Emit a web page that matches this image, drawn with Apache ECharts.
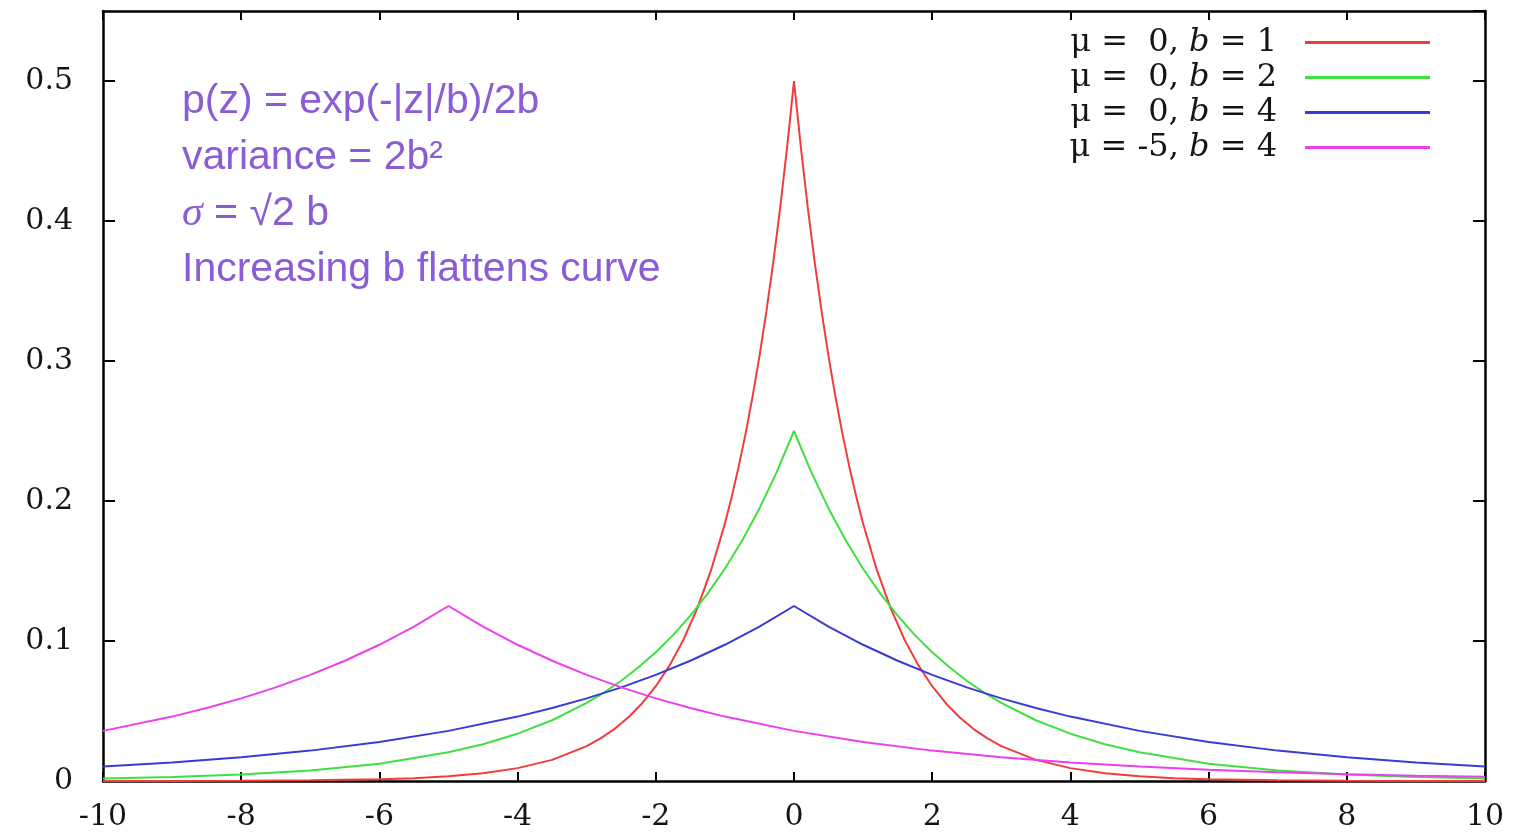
<!DOCTYPE html>
<html>
<head>
<meta charset="utf-8">
<script src="https://cdn.jsdelivr.net/npm/echarts@6/dist/echarts.min.js"></script>
<style>
html,body{margin:0;padding:0;background:#fff;}
#chart{width:1520px;height:836px;}
</style>
</head>
<body>
<div id="chart"></div>
<script>
// ---- data ----
const xTicks = [-10, -8, -6, -4, -2, 0, 2, 4, 6, 8, 10];
const yTickLabels = ['0', '0.1', '0.2', '0.3', '0.4', '0.5'];

const seriesNames = ['μ =  0, b = 1', 'μ =  0, b = 2', 'μ =  0, b = 4', 'μ = -5, b = 4'];
const legendParts = [['μ =  0, ', '= 1'], ['μ =  0, ', '= 2'], ['μ =  0, ', '= 4'], ['μ = -5, ', '= 4']];
const seriesColors = ['#f03c3c', '#3fe03f', '#3a3ad6', '#ee3fee'];

const redX = [-10, -9, -8, -7, -6, -5.5, -5, -4.5, -4, -3.5, -3, -2.8, -2.6, -2.4, -2.2, -2, -1.8, -1.6, -1.4, -1.2, -1, -0.9, -0.8, -0.7, -0.6, -0.5, -0.4, -0.3, -0.2, -0.1, 0,
              0.1, 0.2, 0.3, 0.4, 0.5, 0.6, 0.7, 0.8, 0.9, 1, 1.2, 1.4, 1.6, 1.8, 2, 2.2, 2.4, 2.6, 2.8, 3, 3.5, 4, 4.5, 5, 5.5, 6, 7, 8, 9, 10];
const redY = [0.00002, 0.00006, 0.00017, 0.00046, 0.0012, 0.0020, 0.0034, 0.0056, 0.0092, 0.0151, 0.0249, 0.0304, 0.0371, 0.0454, 0.0554, 0.0677, 0.0826, 0.1009, 0.1233, 0.1506, 0.1839, 0.2033, 0.2247, 0.2483, 0.2744, 0.3033, 0.3352, 0.3704, 0.4094, 0.4524, 0.5,
              0.4524, 0.4094, 0.3704, 0.3352, 0.3033, 0.2744, 0.2483, 0.2247, 0.2033, 0.1839, 0.1506, 0.1233, 0.1009, 0.0826, 0.0677, 0.0554, 0.0454, 0.0371, 0.0304, 0.0249, 0.0151, 0.0092, 0.0056, 0.0034, 0.0020, 0.0012, 0.00046, 0.00017, 0.00006, 0.00002];

const greenX = [-10, -9, -8, -7, -6, -5, -4.5, -4, -3.5, -3, -2.75, -2.5, -2.25, -2, -1.75, -1.5, -1.25, -1, -0.75, -0.5, -0.25, 0,
                0.25, 0.5, 0.75, 1, 1.25, 1.5, 1.75, 2, 2.25, 2.5, 2.75, 3, 3.5, 4, 4.5, 5, 6, 7, 8, 9, 10];
const greenY = [0.0017, 0.0028, 0.0046, 0.0075, 0.0124, 0.0205, 0.0263, 0.0338, 0.0434, 0.0558, 0.0632, 0.0716, 0.0812, 0.0920, 0.1042, 0.1181, 0.1338, 0.1516, 0.1718, 0.1947, 0.2206, 0.25,
                0.2206, 0.1947, 0.1718, 0.1516, 0.1338, 0.1181, 0.1042, 0.0920, 0.0812, 0.0716, 0.0632, 0.0558, 0.0434, 0.0338, 0.0263, 0.0205, 0.0124, 0.0075, 0.0046, 0.0028, 0.0017];

const blueX = [-10, -9, -8, -7, -6, -5, -4, -3.5, -3, -2.5, -2, -1.5, -1, -0.5, 0, 0.5, 1, 1.5, 2, 2.5, 3, 3.5, 4, 5, 6, 7, 8, 9, 10];
const blueY = [0.0103, 0.0132, 0.0169, 0.0217, 0.0279, 0.0358, 0.0460, 0.0521, 0.0590, 0.0669, 0.0758, 0.0859, 0.0973, 0.1103, 0.125,
               0.1103, 0.0973, 0.0859, 0.0758, 0.0669, 0.0590, 0.0521, 0.0460, 0.0358, 0.0279, 0.0217, 0.0169, 0.0132, 0.0103];

const magentaX = [-10, -9, -8.5, -8, -7.5, -7, -6.5, -6, -5.5, -5, -4.5, -4, -3.5, -3, -2.5, -2, -1.5, -1, 0, 1, 2, 3, 4, 5, 6, 7, 8, 9, 10];
const magentaY = [0.0358, 0.0460, 0.0521, 0.0590, 0.0669, 0.0758, 0.0859, 0.0973, 0.1103, 0.125, 0.1103, 0.0973, 0.0859, 0.0758, 0.0669, 0.0590, 0.0521, 0.0460,
                  0.0358, 0.0279, 0.0217, 0.0169, 0.0132, 0.0103, 0.0080, 0.0062, 0.0049, 0.0038, 0.0030];

const annotationLines = ['p(z) = exp(-|z|/b)/2b', 'variance = 2b²', '√2 b', 'Increasing b flattens curve'];

// ---- build ----
function pairs(xs, ys) { return xs.map((x, i) => [x, ys[i]]); }
const allX = [redX, greenX, blueX, magentaX];
const allY = [redY, greenY, blueY, magentaY];

const chart = echarts.init(document.getElementById('chart'), null, {renderer: 'canvas'});
const serif = '"DejaVu Serif", "Liberation Serif", serif';
const tickFont = {fontFamily: serif, fontSize: 30, color: '#151515'};

function yFmt(v) {
  const k = Math.round(v * 10);
  if (Math.abs(v * 10 - k) > 1e-6) return '';
  return yTickLabels[k] !== undefined ? yTickLabels[k] : '';
}

const option = {
  backgroundColor: '#fff',
  animation: false,
  grid: {left: 103, right: 35, top: 11, bottom: 55, containLabel: false},
  legend: {
    orient: 'vertical',
    align: 'right',
    right: 85,
    top: 20,
    itemWidth: 125,
    itemHeight: 3,
    itemGap: 0,
    icon: 'rect',
    selectedMode: false,
    data: seriesNames,
    formatter: function (name) {
      const i = seriesNames.indexOf(name);
      return '{n|' + legendParts[i][0] + '}{i|b}{n| ' + legendParts[i][1] + '}';
    },
    textStyle: {
      fontFamily: serif, fontSize: 32, color: '#151515', lineHeight: 35,
      padding: [0, 23, 0, 0],
      rich: {
        n: {fontFamily: serif, fontSize: 32, color: '#151515', lineHeight: 35},
        i: {fontFamily: serif, fontSize: 32, color: '#151515', fontStyle: 'italic', lineHeight: 35}
      }
    }
  },
  xAxis: [{
    type: 'value', min: -10, max: 10, interval: 2, position: 'bottom',
    axisLine: {show: true, onZero: false, lineStyle: {color: '#000', width: 2.5}},
    axisTick: {show: true, inside: true, length: 9, lineStyle: {color: '#000', width: 2}},
    axisLabel: Object.assign({margin: 21}, tickFont),
    splitLine: {show: false}
  }, {
    type: 'value', min: -10, max: 10, interval: 2, position: 'top',
    axisLine: {show: true, onZero: false, lineStyle: {color: '#000', width: 2.5}},
    axisTick: {show: true, inside: true, length: 9, lineStyle: {color: '#000', width: 2}},
    axisLabel: {show: false},
    splitLine: {show: false}
  }],
  yAxis: [{
    type: 'value', min: 0, max: 0.55, interval: 0.1, position: 'left',
    axisLine: {show: true, onZero: false, lineStyle: {color: '#000', width: 2.5}},
    axisTick: {show: true, inside: true, length: 12, lineStyle: {color: '#000', width: 2}},
    axisLabel: Object.assign({margin: 30, formatter: yFmt, showMaxLabel: false}, tickFont),
    splitLine: {show: false}
  }, {
    type: 'value', min: 0, max: 0.55, interval: 0.1, position: 'right',
    axisLine: {show: true, onZero: false, lineStyle: {color: '#000', width: 2.5}},
    axisTick: {show: true, inside: true, length: 12, lineStyle: {color: '#000', width: 2}},
    axisLabel: {show: false},
    splitLine: {show: false}
  }],
  series: seriesNames.map((name, i) => ({
    name: name,
    type: 'line',
    xAxisIndex: 0,
    yAxisIndex: 0,
    data: pairs(allX[i], allY[i]),
    showSymbol: false,
    symbol: 'none',
    smooth: false,
    color: seriesColors[i],
    lineStyle: {color: seriesColors[i], width: 2},
    z: 3 + i
  })),
  graphic: [{
    type: 'text',
    left: 182,
    top: 81,
    style: {
      text: '{t|' + annotationLines[0] + '}\n{t|' + annotationLines[1] + '}\n{s|σ}{t| = ' + annotationLines[2] + '}\n{t|' + annotationLines[3] + '}',
      rich: {
        t: {fontFamily: '"Liberation Sans", Arial, sans-serif', fontSize: 41, fill: '#8a5cd6', lineHeight: 56},
        s: {fontFamily: '"Liberation Serif", serif', fontSize: 42, fontStyle: 'italic', fill: '#8a5cd6', lineHeight: 56}
      }
    }
  }]
};
chart.setOption(option);
</script>
</body>
</html>
